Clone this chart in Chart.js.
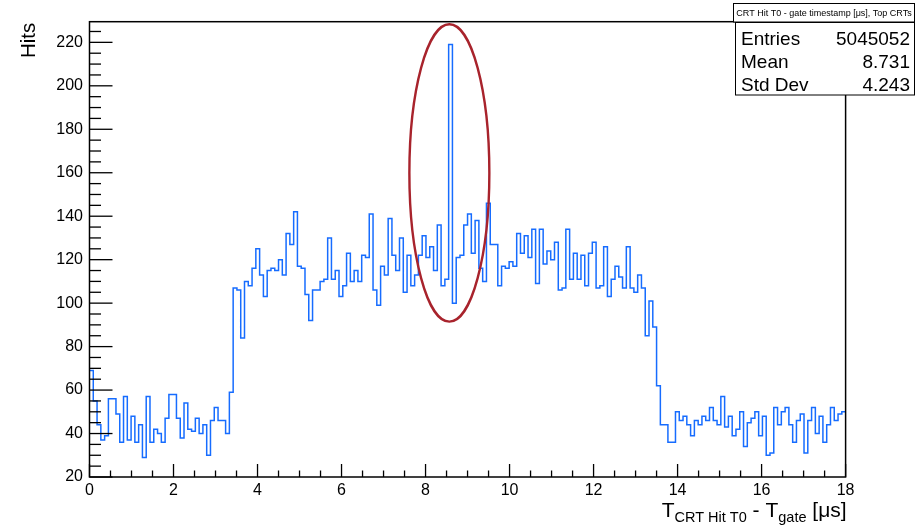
<!DOCTYPE html>
<html>
<head>
<meta charset="utf-8">
<script src="https://cdn.jsdelivr.net/npm/chart.js@4.4.1/dist/chart.umd.min.js"></script>
<style>
html,body{margin:0;padding:0;background:#ffffff;}
#wrap{width:918px;height:525px;position:relative;}
</style>
</head>
<body>
<div id="wrap"><canvas id="c" width="918" height="525"></canvas></div>
<script>
// ---- data (200 bins from 0 to 18 us) ----
const xMin = 0;
const xMax = 18;
const hits = [
  69, 55, 44, 37, 39, 56, 56, 49, 36, 57,
  37, 48, 36, 44, 29, 57, 36, 42, 40, 36,
  47, 58, 58, 47, 38, 54, 42, 41, 47, 40,
  44, 30, 46, 52, 46, 46, 40, 59, 107, 106,
  84, 110, 108, 116, 125, 113, 103, 115, 116, 115,
  120, 113, 132, 127, 142, 117, 116, 104, 92, 106,
  106, 110, 111, 130, 111, 115, 103, 108, 123, 110,
  115, 110, 122, 121, 141, 106, 99, 117, 113, 139,
  122, 115, 130, 105, 122, 108, 113, 122, 131, 121,
  126, 115, 136, 108, 111, 219, 100, 121, 122, 136,
  141, 123, 138, 116, 110, 146, 127, 127, 108, 117,
  116, 119, 117, 132, 123, 131, 121, 134, 109, 134,
  118, 124, 120, 128, 106, 107, 134, 111, 123, 111,
  122, 108, 123, 128, 107, 108, 126, 103, 111, 117,
  112, 107, 126, 107, 105, 113, 107, 85, 101, 89,
  62, 44, 44, 36, 36, 50, 46, 48, 44, 39,
  46, 44, 48, 46, 52, 46, 44, 57, 43, 48,
  39, 42, 50, 34, 45, 47, 50, 39, 48, 30,
  31, 52, 44, 50, 52, 44, 36, 46, 49, 31,
  46, 52, 40, 48, 36, 44, 52, 46, 49, 50
];
const xTickValues = [0, 2, 4, 6, 8, 10, 12, 14, 16, 18];
const xTickLabels = ['0', '2', '4', '6', '8', '10', '12', '14', '16', '18'];
const yTickValues = [20, 40, 60, 80, 100, 120, 140, 160, 180, 200, 220];
const yTickLabels = ['20', '40', '60', '80', '100', '120', '140', '160', '180', '200', '220'];
const yRange = [20, 229.5];
const yTitle = 'Hits';
const statsTitle = 'CRT Hit T0 - gate timestamp [\u03bcs], Top CRTs';
const statsLabels = ['Entries', 'Mean', 'Std Dev'];
const statsValues = ['5045052', '8.731', '4.243'];
// highlighted region (data coordinates)
const highlight = { cx: 8.567, cy: 159.9, rx: 0.952, ry: 68.4 };

// ---- build step table from the arrays ----
const binWidth = (xMax - xMin) / hits.length;
const steps = hits.map((v, i) => ({ x: xMin + i * binWidth, y: v }));
steps.push({ x: xMax, y: hits[hits.length - 1] });

const FONT = "'Liberation Sans', Arial, Helvetica, sans-serif";

const rootDecor = {
  id: 'rootDecor',
  afterDatasetsDraw(chart) {
    const { ctx, chartArea: a, scales: { x, y } } = chart;
    ctx.save();
    // highlight ellipse
    const ex = x.getPixelForValue(highlight.cx);
    const ey = y.getPixelForValue(highlight.cy);
    const erx = Math.abs(x.getPixelForValue(highlight.cx + highlight.rx) - ex);
    const ery = Math.abs(y.getPixelForValue(highlight.cy + highlight.ry) - ey);
    ctx.strokeStyle = '#a8232c';
    ctx.lineWidth = 2.4;
    ctx.beginPath();
    ctx.ellipse(ex, ey, erx, ery, 0, 0, Math.PI * 2);
    ctx.stroke();

    // frame
    ctx.strokeStyle = '#000';
    ctx.lineWidth = 1.5;
    ctx.strokeRect(a.left, a.top, a.right - a.left, a.bottom - a.top);

    // inward ticks, ROOT style
    ctx.lineWidth = 1.3;
    for (let k = 0; k <= 36; k++) {
      const v = xMin + k * 0.5;
      const px = x.getPixelForValue(v);
      const len = (k % 4 === 0) ? 13 : 6.5;
      ctx.beginPath(); ctx.moveTo(px, a.bottom); ctx.lineTo(px, a.bottom - len); ctx.stroke();
    }
    for (let v = yRange[0]; v <= yRange[1]; v += 5) {
      const py = y.getPixelForValue(v);
      const len = ((v - 20) % 20 === 0) ? 23 : 11.5;
      ctx.beginPath(); ctx.moveTo(a.left, py); ctx.lineTo(a.left + len, py); ctx.stroke();
    }

    // y axis title
    ctx.fillStyle = '#000';
    ctx.save();
    ctx.translate(35, a.top + 1);
    ctx.rotate(-Math.PI / 2);
    ctx.font = '20.5px ' + FONT;
    ctx.textAlign = 'right';
    ctx.textBaseline = 'alphabetic';
    ctx.fillText(yTitle, 0, 0);
    ctx.restore();

    // x axis title: T_{CRT Hit T0} - T_{gate} [us]
    const big = '21px ' + FONT, small = '14.5px ' + FONT;
    const parts = [
      ['T', big, 0], ['CRT Hit T0', small, 5], [' - T', big, 0], ['gate', small, 5], [' [\u03bcs]', big, 0]
    ];
    let total = 0;
    parts.forEach(p => { ctx.font = p[1]; p.push(ctx.measureText(p[0]).width); total += p[3]; });
    let cx = a.right + 1 - total;
    ctx.textAlign = 'left';
    parts.forEach(p => { ctx.font = p[1]; ctx.fillText(p[0], cx, 516.5 + p[2]); cx += p[3]; });

    // title box
    ctx.fillStyle = '#fff';
    ctx.fillRect(733, 3, 182, 19);
    ctx.lineWidth = 1;
    ctx.strokeStyle = '#000';
    ctx.strokeRect(733.5, 3.5, 181, 18.5);
    ctx.fillStyle = '#000';
    ctx.font = '9px ' + FONT;
    ctx.textAlign = 'center';
    ctx.textBaseline = 'middle';
    ctx.fillText(statsTitle, 824, 13.5);

    // stats box
    ctx.fillStyle = '#fff';
    ctx.fillRect(735, 22, 180, 73);
    ctx.strokeRect(735.5, 22.5, 179, 72.5);
    ctx.fillStyle = '#000';
    ctx.font = '19px ' + FONT;
    ctx.textBaseline = 'alphabetic';
    const base = [45, 68, 90.5];
    statsLabels.forEach((s, i) => {
      ctx.textAlign = 'left'; ctx.fillText(s, 741, base[i]);
      ctx.textAlign = 'right'; ctx.fillText(statsValues[i], 910, base[i]);
    });
    ctx.restore();
  }
};

new Chart(document.getElementById('c'), {
  type: 'line',
  data: {
    datasets: [{
      data: steps,
      stepped: 'before',
      borderColor: 'rgb(22,108,255)',
      borderWidth: 1.5,
      pointRadius: 0,
      fill: false,
      tension: 0
    }]
  },
  options: {
    responsive: false,
    animation: false,
    devicePixelRatio: 1,
    layout: { padding: { top: 21.7, right: 72.4, left: 0, bottom: 0 } },
    plugins: { legend: { display: false }, tooltip: { enabled: false }, title: { display: false } },
    scales: {
      x: {
        type: 'linear', min: xMin, max: xMax,
        grid: { display: false, drawTicks: false },
        border: { display: false },
        afterBuildTicks: s => { s.ticks = xTickValues.map(v => ({ value: v })); },
        afterFit: s => { s.height = 48; },
        ticks: {
          padding: 4, color: '#000', maxRotation: 0, autoSkip: false,
          font: { family: FONT, size: 16 },
          callback: (v) => xTickLabels[xTickValues.indexOf(v)]
        }
      },
      y: {
        type: 'linear', min: yRange[0], max: yRange[1],
        grid: { display: false, drawTicks: false },
        border: { display: false },
        afterBuildTicks: s => { s.ticks = yTickValues.map(v => ({ value: v })); },
        afterFit: s => { s.width = 89.5; },
        ticks: {
          padding: 6.5, color: '#000', autoSkip: false,
          font: { family: FONT, size: 16 },
          callback: (v) => yTickLabels[yTickValues.indexOf(v)]
        }
      }
    }
  },
  plugins: [rootDecor]
});
</script>
</body>
</html>
